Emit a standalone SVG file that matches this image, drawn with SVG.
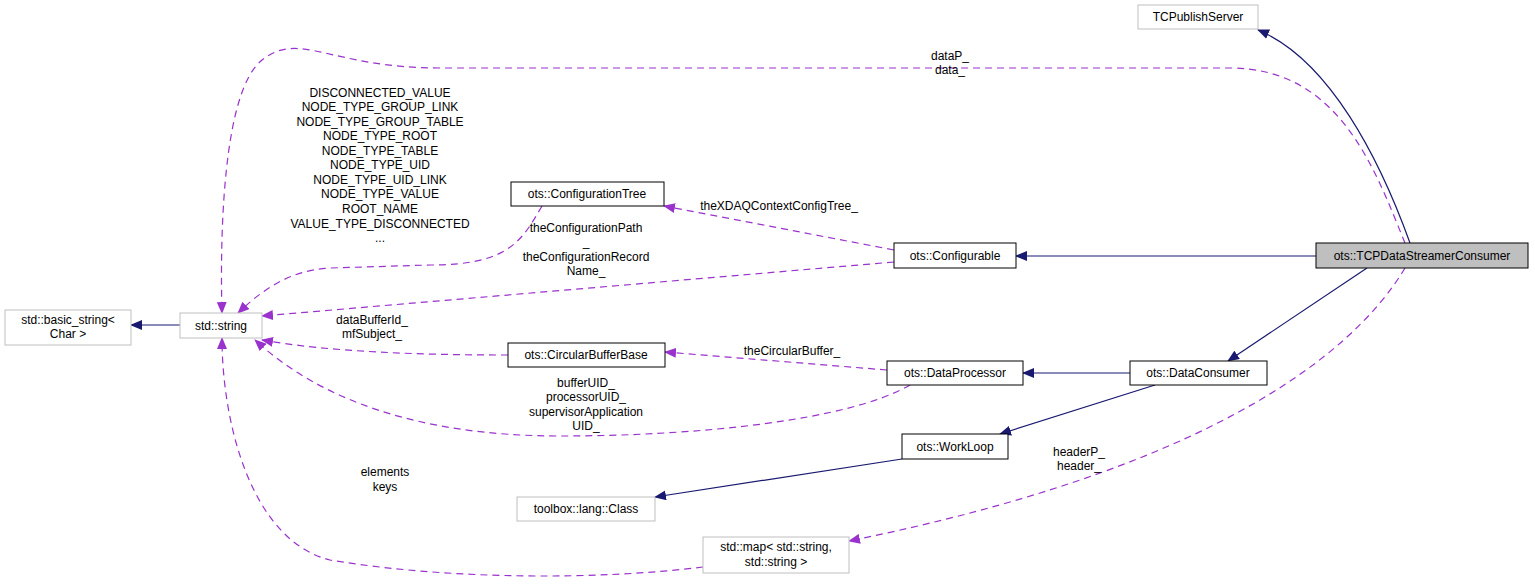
<svg xmlns="http://www.w3.org/2000/svg" width="1535" height="584" viewBox="0 0 1535 584">
<style>
text{font-family:"Liberation Sans",Arial,sans-serif;font-size:12px;fill:#000}
.n{fill:#fff;stroke:#000;stroke-width:1}
.g{fill:#fff;stroke:#bfbfbf;stroke-width:1}
.c{text-anchor:middle}
.inh{fill:none;stroke:#191970;stroke-width:1.2;marker-end:url(#a1)}
.use{fill:none;stroke:#9a32cd;stroke-width:1.2;stroke-dasharray:7,5;marker-end:url(#a2)}
</style>
<defs>
<marker id="a1" markerWidth="12" markerHeight="10" refX="11" refY="5" orient="auto" markerUnits="userSpaceOnUse"><path d="M0,0 L12,5 L0,10 z" fill="#191970"/></marker>
<marker id="a2" markerWidth="12" markerHeight="10" refX="11" refY="5" orient="auto" markerUnits="userSpaceOnUse"><path d="M0,0 L12,5 L0,10 z" fill="#9a32cd"/></marker>
</defs>
<rect width="1535" height="584" fill="#fff"/>
<g id="edges">
<path class="inh" d="M1410,243 C1380,160 1330,60 1258,30"/>
<path class="inh" d="M1316,256 L1016,256"/>
<path class="inh" d="M1367,268 L1228,361"/>
<path class="inh" d="M1130,373 L1023,373"/>
<path class="inh" d="M1155,385 L1000,434"/>
<path class="inh" d="M902,459 L655,497"/>
<path class="inh" d="M180,325 L131,325"/>
<path class="use" d="M1405,243 C1375,170 1340,68 1230,68 L440,68 C330,68 300,30 262,60 C222,92 220,240 222,313"/>
<path class="use" d="M894,250 L664,206"/>
<path class="use" d="M542,206 C522,240 510,265 430,265 L330,268 C290,270 262,290 238,313"/>
<path class="use" d="M894,262 L262,316"/>
<path class="use" d="M508,355 C420,355 330,352 262,340"/>
<path class="use" d="M887,370 L665,352"/>
<path class="use" d="M910,385 C850,420 700,436 560,436 C420,436 320,400 255,340"/>
<path class="use" d="M703,567 C600,580 450,580 330,560 C250,540 222,420 222,338"/>
<path class="use" d="M1405,268 C1350,360 1200,470 849,541"/>
<text class="c" x="950" y="60">dataP_</text>
<text class="c" x="950" y="74">data_</text>
<text class="c" x="779" y="210">theXDAQContextConfigTree_</text>
<text class="c" x="380" y="97">DISCONNECTED_VALUE</text>
<text class="c" x="380" y="111">NODE_TYPE_GROUP_LINK</text>
<text class="c" x="380" y="126">NODE_TYPE_GROUP_TABLE</text>
<text class="c" x="380" y="140">NODE_TYPE_ROOT</text>
<text class="c" x="380" y="155">NODE_TYPE_TABLE</text>
<text class="c" x="380" y="169">NODE_TYPE_UID</text>
<text class="c" x="380" y="184">NODE_TYPE_UID_LINK</text>
<text class="c" x="380" y="198">NODE_TYPE_VALUE</text>
<text class="c" x="380" y="213">ROOT_NAME</text>
<text class="c" x="380" y="228">VALUE_TYPE_DISCONNECTED</text>
<text class="c" x="380" y="242">...</text>
<text class="c" x="586" y="232">theConfigurationPath</text>
<text class="c" x="586" y="246">_</text>
<text class="c" x="586" y="261">theConfigurationRecord</text>
<text class="c" x="586" y="275">Name_</text>
<text class="c" x="372" y="324">dataBufferId_</text>
<text class="c" x="372" y="338">mfSubject_</text>
<text class="c" x="792" y="355">theCircularBuffer_</text>
<text class="c" x="586" y="387">bufferUID_</text>
<text class="c" x="586" y="401">processorUID_</text>
<text class="c" x="586" y="416">supervisorApplication</text>
<text class="c" x="586" y="430">UID_</text>
<text class="c" x="385" y="476">elements</text>
<text class="c" x="385" y="491">keys</text>
<text class="c" x="1079" y="456">headerP_</text>
<text class="c" x="1079" y="470">header_</text>
</g>
<g id="TCPublishServer"><rect class="g" x="1138" y="5" width="120" height="24"/><text class="c" x="1198" y="21">TCPublishServer</text></g>
<g id="TCPDataStreamerConsumer"><rect x="1316" y="243" width="212" height="25" fill="#bfbfbf" stroke="#000"/><text class="c" x="1422" y="260">ots::TCPDataStreamerConsumer</text></g>
<g id="Configurable"><rect class="n" x="894" y="243" width="122" height="25"/><text class="c" x="955" y="260">ots::Configurable</text></g>
<g id="ConfigurationTree"><rect class="n" x="511" y="182" width="153" height="24"/><text class="c" x="587" y="198">ots::ConfigurationTree</text></g>
<g id="stdstring"><rect class="g" x="180" y="313" width="82" height="25"/><text class="c" x="221" y="330">std::string</text></g>
<g id="basic_string"><rect class="g" x="5" y="310" width="126" height="35"/><text class="c" x="68" y="324">std::basic_string&lt;</text><text class="c" x="68" y="338">Char &gt;</text></g>
<g id="CircularBufferBase"><rect class="n" x="508" y="343" width="157" height="24"/><text class="c" x="586" y="359">ots::CircularBufferBase</text></g>
<g id="DataProcessor"><rect class="n" x="887" y="361" width="136" height="24"/><text class="c" x="955" y="377">ots::DataProcessor</text></g>
<g id="DataConsumer"><rect class="n" x="1130" y="361" width="137" height="24"/><text class="c" x="1198" y="377">ots::DataConsumer</text></g>
<g id="WorkLoop"><rect class="n" x="902" y="434" width="106" height="25"/><text class="c" x="955" y="451">ots::WorkLoop</text></g>
<g id="Class"><rect class="g" x="517" y="497" width="138" height="24"/><text class="c" x="586" y="513">toolbox::lang::Class</text></g>
<g id="stdmap"><rect class="g" x="703" y="537" width="146" height="36"/><text class="c" x="776" y="551">std::map&lt; std::string,</text><text class="c" x="776" y="566">std::string &gt;</text></g>
</svg>
